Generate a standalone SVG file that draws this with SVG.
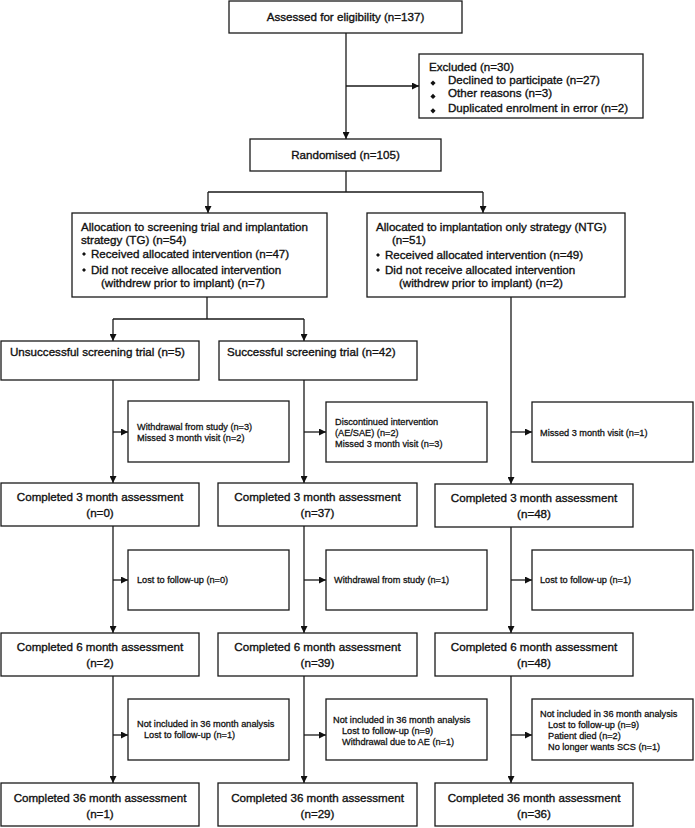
<svg xmlns="http://www.w3.org/2000/svg" width="695" height="828" viewBox="0 0 695 828">
<style>
.box{fill:#fff;stroke:#1a1a1a;stroke-width:1.3}
.t{font-family:"Liberation Sans",Arial,sans-serif;font-size:11.6px;fill:#111;stroke:#111;stroke-width:0.35}
.s{font-family:"Liberation Sans",Arial,sans-serif;font-size:9.2px;fill:#111;stroke:#111;stroke-width:0.28}
.c{text-anchor:middle}
.ln{fill:none;stroke:#1a1a1a;stroke-width:1.3}
.bl{fill:#111}
</style>
<defs>
<marker id="ah" viewBox="0 0 8 8" refX="8" refY="4" markerWidth="7" markerHeight="7" markerUnits="userSpaceOnUse" orient="auto">
<path d="M0,0 L8,4 L0,8 z" fill="#111"/>
</marker>
</defs>
<rect width="695" height="828" fill="#fff"/>

<g id="connectors">
<path class="ln" d="M346,33 V139" marker-end="url(#ah)"/>
<path class="ln" d="M346,86 H419" marker-end="url(#ah)"/>
<path class="ln" d="M346,171 V192 M208,192 H483"/>
<path class="ln" d="M208,192 V213" marker-end="url(#ah)"/>
<path class="ln" d="M483,192 V213" marker-end="url(#ah)"/>
<path class="ln" d="M207,297 V319 M113,319 H304"/>
<path class="ln" d="M113,319 V341" marker-end="url(#ah)"/>
<path class="ln" d="M304,319 V341" marker-end="url(#ah)"/>
<path class="ln" d="M511,297 V484" marker-end="url(#ah)"/>
<path class="ln" d="M511,432 H532" marker-end="url(#ah)"/>
<path class="ln" d="M113,380 V483" marker-end="url(#ah)"/>
<path class="ln" d="M113,432 H128" marker-end="url(#ah)"/>
<path class="ln" d="M304,380 V483" marker-end="url(#ah)"/>
<path class="ln" d="M304,432 H326" marker-end="url(#ah)"/>
<path class="ln" d="M113,526 V633" marker-end="url(#ah)"/>
<path class="ln" d="M113,580 H128" marker-end="url(#ah)"/>
<path class="ln" d="M304,526 V633" marker-end="url(#ah)"/>
<path class="ln" d="M304,580 H326" marker-end="url(#ah)"/>
<path class="ln" d="M511,527 V633" marker-end="url(#ah)"/>
<path class="ln" d="M511,580 H532" marker-end="url(#ah)"/>
<path class="ln" d="M113,676 V783" marker-end="url(#ah)"/>
<path class="ln" d="M113,735 H128" marker-end="url(#ah)"/>
<path class="ln" d="M304,676 V783" marker-end="url(#ah)"/>
<path class="ln" d="M304,735 H326" marker-end="url(#ah)"/>
<path class="ln" d="M511,676 V783" marker-end="url(#ah)"/>
<path class="ln" d="M511,735 H532" marker-end="url(#ah)"/>
</g>

<g id="assessed">
<rect class="box" x="229" y="1" width="233" height="32"/>
<text class="t c" x="345.5" y="21">Assessed for eligibility (n=137)</text>
</g>

<g id="excluded">
<rect class="box" x="419" y="54" width="224" height="64"/>
<text class="t" x="429" y="71">Excluded (n=30)</text>
<path class="bl" d="M433,80.5 l2.6,2.6 l-2.6,2.6 l-2.6,-2.6 z"/>
<text class="t" x="448" y="84">Declined to participate (n=27)</text>
<path class="bl" d="M433,93.8 l2.6,2.6 l-2.6,2.6 l-2.6,-2.6 z"/>
<text class="t" x="448" y="97.3">Other reasons (n=3)</text>
<path class="bl" d="M433,108.2 l2.6,2.6 l-2.6,2.6 l-2.6,-2.6 z"/>
<text class="t" x="448" y="111.7">Duplicated enrolment in error (n=2)</text>
</g>

<g id="randomised">
<rect class="box" x="250" y="139" width="191" height="32"/>
<text class="t c" x="345.5" y="159">Randomised (n=105)</text>
</g>

<g id="tg">
<rect class="box" x="72" y="213" width="255" height="84"/>
<text class="t" x="81" y="231">Allocation to screening trial and implantation</text>
<text class="t" x="81" y="244">strategy (TG) (n=54)</text>
<path class="bl" d="M84,252 l2,2 l-2,2 l-2,-2 z"/>
<text class="t" x="91" y="258">Received allocated intervention (n=47)</text>
<path class="bl" d="M84,268 l2,2 l-2,2 l-2,-2 z"/>
<text class="t" x="91" y="274">Did not receive allocated intervention</text>
<text class="t" x="101" y="287.3">(withdrew prior to implant) (n=7)</text>
</g>

<g id="ntg">
<rect class="box" x="367" y="213" width="258" height="84"/>
<text class="t" x="376" y="231">Allocated to implantation only strategy (NTG)</text>
<text class="t" x="392" y="244">(n=51)</text>
<path class="bl" d="M378,253 l2,2 l-2,2 l-2,-2 z"/>
<text class="t" x="385" y="259">Received allocated intervention (n=49)</text>
<path class="bl" d="M378,268 l2,2 l-2,2 l-2,-2 z"/>
<text class="t" x="385" y="274">Did not receive allocated intervention</text>
<text class="t" x="399" y="287.3">(withdrew prior to implant) (n=2)</text>
</g>

<g id="unsuccessful">
<rect class="box" x="1" y="341" width="198" height="39"/>
<text class="t" x="10" y="356">Unsuccessful screening trial (n=5)</text>
</g>

<g id="successful">
<rect class="box" x="219" y="341" width="198" height="39"/>
<text class="t" x="227" y="356">Successful screening trial (n=42)</text>
</g>

<g id="side-u1">
<rect class="box" x="128" y="401" width="161" height="61"/>
<text class="s" x="137" y="429.5">Withdrawal from study (n=3)</text>
<text class="s" x="137" y="440.5">Missed 3 month visit (n=2)</text>
</g>

<g id="side-s1">
<rect class="box" x="326" y="402" width="161" height="60"/>
<text class="s" x="335" y="425">Discontinued intervention</text>
<text class="s" x="335" y="436">(AE/SAE) (n=2)</text>
<text class="s" x="335" y="447">Missed 3 month visit (n=3)</text>
</g>

<g id="side-n1">
<rect class="box" x="532" y="402" width="161" height="60"/>
<text class="s" x="540" y="436">Missed 3 month visit (n=1)</text>
</g>

<g id="c3-u">
<rect class="box" x="1" y="483" width="198" height="43"/>
<text class="t c" x="100" y="501">Completed 3 month assessment</text>
<text class="t c" x="100" y="517">(n=0)</text>
</g>
<g id="c3-s">
<rect class="box" x="218" y="483" width="199" height="43"/>
<text class="t c" x="317.5" y="501">Completed 3 month assessment</text>
<text class="t c" x="317.5" y="517">(n=37)</text>
</g>
<g id="c3-n">
<rect class="box" x="435" y="484" width="198" height="43"/>
<text class="t c" x="534" y="502">Completed 3 month assessment</text>
<text class="t c" x="534" y="518">(n=48)</text>
</g>

<g id="side-u2">
<rect class="box" x="128" y="550" width="161" height="60"/>
<text class="s" x="137" y="583.3">Lost to follow-up (n=0)</text>
</g>
<g id="side-s2">
<rect class="box" x="326" y="550" width="161" height="60"/>
<text class="s" x="334" y="583.3">Withdrawal from study (n=1)</text>
</g>
<g id="side-n2">
<rect class="box" x="532" y="550" width="161" height="60"/>
<text class="s" x="540" y="583.3">Lost to follow-up (n=1)</text>
</g>

<g id="c6-u">
<rect class="box" x="1" y="633" width="198" height="43"/>
<text class="t c" x="100" y="651">Completed 6 month assessment</text>
<text class="t c" x="100" y="667">(n=2)</text>
</g>
<g id="c6-s">
<rect class="box" x="218" y="633" width="199" height="43"/>
<text class="t c" x="317.5" y="651">Completed 6 month assessment</text>
<text class="t c" x="317.5" y="667">(n=39)</text>
</g>
<g id="c6-n">
<rect class="box" x="435" y="633" width="198" height="43"/>
<text class="t c" x="534" y="651">Completed 6 month assessment</text>
<text class="t c" x="534" y="667">(n=48)</text>
</g>

<g id="side-u3">
<rect class="box" x="128" y="699" width="161" height="61"/>
<text class="s" x="137" y="727">Not included in 36 month analysis</text>
<text class="s" x="144" y="738">Lost to follow-up (n=1)</text>
</g>
<g id="side-s3">
<rect class="box" x="326" y="699" width="161" height="61"/>
<text class="s" x="333" y="722.5">Not included in 36 month analysis</text>
<text class="s" x="342" y="733.5">Lost to follow-up (n=9)</text>
<text class="s" x="342" y="744.5">Withdrawal due to AE (n=1)</text>
</g>
<g id="side-n3">
<rect class="box" x="532" y="699" width="161" height="61"/>
<text class="s" x="540" y="716.8">Not included in 36 month analysis</text>
<text class="s" x="548" y="727.8">Lost to follow-up (n=9)</text>
<text class="s" x="548" y="738.8">Patient died (n=2)</text>
<text class="s" x="548" y="749.8">No longer wants SCS (n=1)</text>
</g>

<g id="c36-u">
<rect class="box" x="1" y="783" width="198" height="43"/>
<text class="t c" x="100" y="801.5">Completed 36 month assessment</text>
<text class="t c" x="100" y="818">(n=1)</text>
</g>
<g id="c36-s">
<rect class="box" x="218" y="783" width="199" height="43"/>
<text class="t c" x="317.5" y="801.5">Completed 36 month assessment</text>
<text class="t c" x="317.5" y="818">(n=29)</text>
</g>
<g id="c36-n">
<rect class="box" x="435" y="783" width="198" height="43"/>
<text class="t c" x="534" y="801.5">Completed 36 month assessment</text>
<text class="t c" x="534" y="818">(n=36)</text>
</g>
</svg>
